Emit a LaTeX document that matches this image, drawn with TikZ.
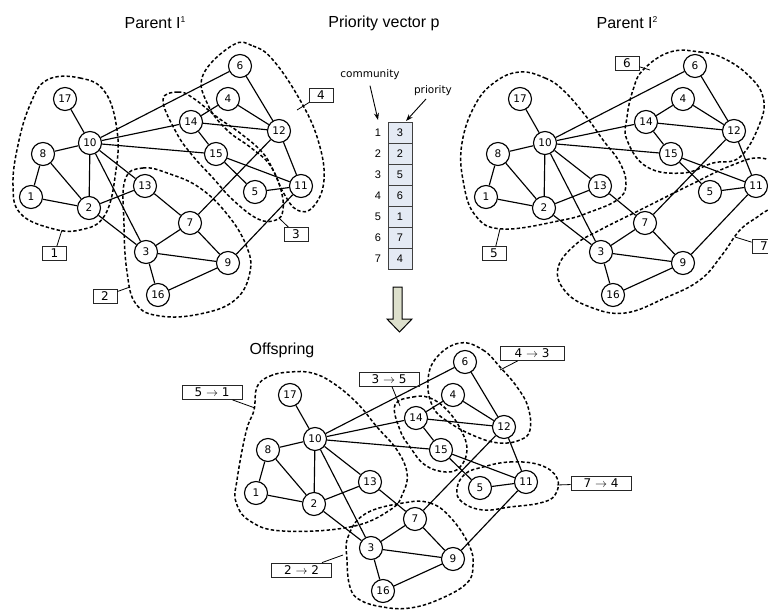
\documentclass[tikz,border=0pt]{standalone}
\usepackage{fontspec}
\setmainfont{Liberation Sans}
\newfontfamily\dvsans{DejaVu Sans}
\usetikzlibrary{arrows.meta}

\newcommand\smallsup[1]{\raisebox{6pt}{\fontsize{8.5}{9}\selectfont #1}}

\tikzset{
  vtx/.style={circle, draw, line width=1.15pt, fill=white, minimum size=23pt,
    inner sep=0pt, font=\dvsans\fontsize{10.5}{12}\selectfont},
  edge/.style={line width=1.15pt},
  comm/.style={dash pattern=on 3.4pt off 2.2pt, line width=1.5pt},
  tag/.style={draw=black!85, line width=0.8pt, minimum width=24pt,
    minimum height=14pt, inner sep=1pt, font=\dvsans\fontsize{12}{13}\selectfont},
  wtag/.style={tag, minimum width=60pt},
  leader/.style={line width=0.8pt},
  title/.style={font=\fontsize{16}{18}\selectfont},
  small/.style={font=\dvsans\fontsize{10.5}{12}\selectfont},
  cell/.style={draw=black!75, line width=0.8pt, fill={rgb,255:red,228;green,234;blue,244},
    minimum width=24pt, minimum height=21pt, inner sep=0pt,
    font=\fontsize{11}{12}\selectfont},
  idx/.style={font=\fontsize{11}{12}\selectfont},
  pointer/.style={line width=0.9pt, -{Stealth[length=7pt,width=5pt]}},
}

% one copy of the network, node names prefixed by #1, shifted by (#2,#3)
\newcommand\netgraph[3]{%
  \begin{scope}[shift={(#2,#3)}]
    \foreach \i/\px/\py in {1/31/197, 2/89/208, 3/146/252, 4/228/99, 5/255/192,
        6/240/66, 7/190/223, 8/43/154, 9/228/263, 10/90/143, 11/301/186,
        12/279/131, 13/145/186, 14/191/122, 15/216/154, 16/158/295, 17/65/99}
      \node[vtx] (#1\i) at (\px,\py) {\i};
  \end{scope}
  \foreach \a/\b in {17/10, 10/8, 10/6, 10/14, 10/15, 10/2, 10/13, 10/3,
      8/1, 8/2, 1/2, 2/13, 2/3, 14/4, 14/12, 14/15, 4/12, 6/12, 12/7, 12/11,
      15/5, 15/11, 5/11, 13/7, 7/3, 7/9, 3/9, 3/16, 16/9, 9/11}
    \draw[edge] (#1\a) -- (#1\b);
}

\begin{document}
\begin{tikzpicture}[x=1pt, y=-1pt]
\useasboundingbox (0,0) rectangle (768,610);
\fill[white] (0,0) rectangle (768,610);

% ---------- titles ----------
\node[title] (tA) at (155,23) {Parent I\smallsup{1}};
\node[title] (tP) at (384,23) {Priority vector p};
\node[title] (tB) at (627,23) {Parent I\smallsup{2}};
\node[title] (tO) at (282,350) {Offspring};

% ---------- communities of parent 1 ----------
\draw[comm] plot[smooth cycle, tension=0.7] coordinates {(47,80) (80,78) (105,92)
  (117,130) (116,170) (105,215) (80,230) (50,228) (20,213) (13,185) (18,145) (30,105)};
\draw[comm] plot[smooth cycle, tension=0.7] coordinates {(125,180) (143,168) (170,174)
  (200,188) (227,214) (246,245) (250,272) (235,300) (200,314) (160,316) (136,304)
  (127,272) (124,225)};
\draw[comm] plot[smooth cycle, tension=0.7] coordinates {(163,100) (178,92) (193,98)
  (217,117) (240,133) (262,152) (273,170) (281,190) (283,210) (276,220) (258,219)
  (233,200) (213,178) (192,155) (176,132)};
\draw[comm] plot[smooth cycle, tension=0.7] coordinates {(233,45) (253,46) (273,60)
  (300,100) (318,140) (324,180) (313,207) (297,210) (283,192) (270,165) (250,147)
  (227,130) (208,105) (203,75)};

% ---------- communities of parent 2 ----------
\draw[comm] plot[smooth cycle, tension=0.7] coordinates {(520,72) (545,78) (563,90)
  (585,115) (603,140) (620,163) (626,185) (617,200) (590,212) (563,220) (503,229)
  (475,215) (463,180) (462,143) (475,105) (495,82)};
\draw[comm] plot[smooth cycle, tension=0.7] coordinates {(670,52) (700,52) (723,58)
  (748,75) (763,97) (760,123) (740,157) (713,163) (683,173) (647,167) (627,140)
  (627,117) (633,90) (643,70)};
\draw[comm] plot[smooth cycle, tension=0.7] coordinates {(575,245) (600,230) (640,210)
  (690,185) (730,166) (760,158) (780,170) (778,200) (760,215) (740,230) (722,255)
  (700,280) (665,298) (625,313) (590,307) (565,291) (558,268)};

% ---------- communities of the offspring ----------
\draw[comm] plot[smooth cycle, tension=0.7] coordinates {(257,387) (270,376) (290,372)
  (312,373) (333,383) (357,403) (377,427) (397,450) (407,473) (403,493) (390,510)
  (350,527) (283,531) (250,521) (236,502) (237,480) (246,432) (254,410)};
\draw[comm] plot[smooth cycle, tension=0.7] coordinates {(395,405) (413,397) (430,398)
  (447,410) (461,430) (467,450) (460,467) (446,472) (425,465) (410,447) (400,430)};
\draw[comm] plot[smooth cycle, tension=0.7] coordinates {(460,343) (483,350) (500,367)
  (517,387) (528,407) (530,430) (520,440) (500,443) (477,437) (450,423) (433,407)
  (428,380) (437,357)};
\draw[comm] plot[smooth cycle, tension=0.7] coordinates {(483,467) (510,462) (540,465)
  (557,478) (555,495) (540,503) (510,507) (483,510) (462,502) (457,489) (465,474)};
\draw[comm] plot[smooth cycle, tension=0.7] coordinates {(403,503) (430,503) (451,518)
  (469,545) (473,565) (467,583) (440,599) (410,608) (383,607) (360,600) (350,587)
  (347,560) (348,537) (365,514)};

% ---------- the three networks ----------
\netgraph{a}{0}{0}
\netgraph{b}{455}{0}
\netgraph{c}{225}{296}

% ---------- community tags, parent 1 ----------
\node[tag] (g1) at (54.5,253.5) {1};
\coordinate (h1) at (62,230);
\draw[leader] (g1) -- (h1);
\node[tag] (g2) at (105,296) {2};
\coordinate (h2) at (130,287);
\draw[leader] (g2) -- (h2);
\node[tag] (g3) at (296,234.5) {3};
\coordinate (h3) at (280,219);
\draw[leader] (g3) -- (h3);
\node[tag] (g4) at (321,95) {4};
\coordinate (h4) at (297,110);
\draw[leader] (g4) -- (h4);

% ---------- community tags, parent 2 ----------
\node[tag] (g5) at (494,253.5) {5};
\coordinate (h5) at (500,229);
\draw[leader] (g5) -- (h5);
\node[tag] (g6) at (627,63) {6};
\coordinate (h6) at (650,70);
\draw[leader] (g6) -- (h6);
\node[tag] (g7) at (764,246) {7};
\coordinate (h7) at (735,237);
\draw[leader] (g7) -- (h7);

% ---------- community tags, offspring ----------
\node[wtag] (k1) at (212,392.5) {5 $\rightarrow$ 1};
\coordinate (m1) at (255,408);
\draw[leader] (k1) -- (m1);
\node[wtag] (k2) at (389,379.5) {3 $\rightarrow$ 5};
\coordinate (m2) at (400,406);
\draw[leader] (k2) -- (m2);
\node[wtag, minimum width=64pt] (k3) at (532,353.5) {4 $\rightarrow$ 3};
\coordinate (m3) at (500,370);
\draw[leader] (k3) -- (m3);
\node[wtag] (k4) at (601,483.5) {7 $\rightarrow$ 4};
\coordinate (m4) at (557,485);
\draw[leader] (k4) -- (m4);
\node[wtag] (k5) at (301.5,570) {2 $\rightarrow$ 2};
\coordinate (m5) at (343,555);
\draw[leader] (k5) -- (m5);

% ---------- priority vector ----------
\foreach \r/\v in {1/3, 2/2, 3/5, 4/6, 5/1, 6/7, 7/4} {
  \node[cell] (v\r) at (400,{111.5+21*\r}) {\v};
  \node[idx] (n\r) at (378,{111.5+21*\r}) {\r};
}
\node[small] (lc) at (370,75) {community};
\node[small] (lp) at (433,91) {priority};
\coordinate (ac) at (378,120);
\coordinate (ap) at (406,121);
\draw[pointer] (lc.south) ++(0,2) -- (ac);
\draw[pointer] (426,99) -- (ap);

% ---------- block arrow towards the offspring ----------
\draw[line width=1pt, fill={rgb,255:red,221;green,224;blue,204}, line join=miter]
  (393,287) -- (402,287) -- (402,319) -- (412,319) -- (399.5,332)
  -- (387,319) -- (393,319) -- cycle;
\end{tikzpicture}
\end{document}
